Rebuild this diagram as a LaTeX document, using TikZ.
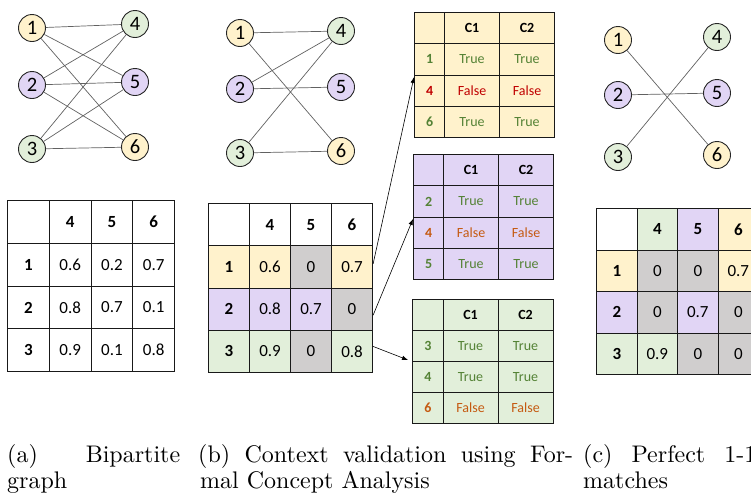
\documentclass[tikz,border=0pt]{standalone}
\usepackage{fontspec}
\newfontfamily\carlito{Carlito}
\usetikzlibrary{arrows.meta}

\definecolor{cyel}{HTML}{FFF2CC}
\definecolor{cpur}{HTML}{E1D5F5}
\definecolor{cgrn}{HTML}{E2EFDA}
\definecolor{cgry}{HTML}{D0CECE}
\definecolor{tgrn}{HTML}{548235}
\definecolor{tred}{HTML}{C00000}
\definecolor{torg}{HTML}{C55A11}

% one table row: name prefix, top y, height, list of x/width/fill/text/suffix
\newcommand\trow[4]{%
  \foreach \cx/\cwid/\cfill/\ctext/\cname in {#4}{%
    \node[cell,minimum width=\cwid pt,minimum height=#3pt,fill=\cfill] (#1\cname) at (\cx,#2) {\ctext};}}
% caption line set at 10pt design size and enlarged
\newcommand\capline[1]{\scalebox{2.4}{\fontsize{10}{12}\selectfont #1}}

\begin{document}
\begin{tikzpicture}[x=1pt,y=-1pt,
  vert/.style={circle,draw=black!85,line width=0.9pt,minimum size=27pt,inner sep=0pt,
    font=\carlito\fontsize{20.5}{20.5}\selectfont},
  link/.style={draw=black!62,line width=0.7pt},
  cell/.style={draw=black!90,line width=1.1pt,anchor=north west,inner sep=0pt,
    font=\carlito\fontsize{17}{17}\selectfont},
  arr/.style={draw=black,line width=0.6pt,-{Latex[length=6pt,width=4.5pt]}},
  captext/.style={anchor=base west,inner sep=0pt},
]
\useasboundingbox (0,0) rectangle (751,493);
\clip (0,0) rectangle (751,493);

% ---------- (a) complete bipartite graph ----------
\node[vert,fill=cyel] (a1) at (32,28) {1};
\node[vert,fill=cpur] (a2) at (32,85) {2};
\node[vert,fill=cgrn] (a3) at (32,149) {3};
\node[vert,fill=cgrn] (a4) at (135,24) {4};
\node[vert,fill=cpur] (a5) at (135,82) {5};
\node[vert,fill=cyel] (a6) at (135,147) {6};
\foreach \u in {1,2,3}{\foreach \v in {4,5,6}{\draw[link] (a\u) -- (a\v);}}

% ---------- (a) weight table ----------
\trow{ta0}{200}{42.75}{7/41.75/white//0, 48.75/41.75/white/\bfseries 4/1, 90.5/41.75/white/\bfseries 5/2, 132.25/41.75/white/\bfseries 6/3}
\trow{ta1}{242.75}{42.75}{7/41.75/white/\bfseries 1/0, 48.75/41.75/white/0.6/1, 90.5/41.75/white/0.2/2, 132.25/41.75/white/0.7/3}
\trow{ta2}{285.5}{42.75}{7/41.75/white/\bfseries 2/0, 48.75/41.75/white/0.8/1, 90.5/41.75/white/0.7/2, 132.25/41.75/white/0.1/3}
\trow{ta3}{328.25}{42.75}{7/41.75/white/\bfseries 3/0, 48.75/41.75/white/0.9/1, 90.5/41.75/white/0.1/2, 132.25/41.75/white/0.8/3}

% ---------- (b) filtered graph ----------
\node[vert,fill=cyel] (b1) at (240,33) {1};
\node[vert,fill=cpur] (b2) at (240,89) {2};
\node[vert,fill=cgrn] (b3) at (240,153) {3};
\node[vert,fill=cgrn] (b4) at (341,31) {4};
\node[vert,fill=cpur] (b5) at (341,87) {5};
\node[vert,fill=cyel] (b6) at (341,151) {6};
\draw[link] (b1) -- (b4);
\draw[link] (b1) -- (b6);
\draw[link] (b2) -- (b4);
\draw[link] (b2) -- (b5);
\draw[link] (b3) -- (b4);
\draw[link] (b3) -- (b6);

% ---------- (b) weight table ----------
\trow{tb0}{203}{42.25}{208/41/white//0, 249/41/white/\bfseries 4/1, 290/41/white/\bfseries 5/2, 331/41/white/\bfseries 6/3}
\trow{tb1}{245.25}{42.25}{208/41/cyel/\bfseries 1/0, 249/41/cyel/0.6/1, 290/41/cgry/0/2, 331/41/cyel/0.7/3}
\trow{tb2}{287.5}{42.25}{208/41/cpur/\bfseries 2/0, 249/41/cpur/0.8/1, 290/41/cpur/0.7/2, 331/41/cgry/0/3}
\trow{tb3}{329.75}{42.25}{208/41/cgrn/\bfseries 3/0, 249/41/cgrn/0.9/1, 290/41/cgry/0/2, 331/41/cgrn/0.8/3}

% ---------- (b) formal concept tables ----------
\tikzset{cell/.append style={font=\carlito\fontsize{14}{14}\selectfont}}
\trow{fa0}{12}{31.25}{414/30/cyel//0, 444/55/cyel/\bfseries C1/1, 499/55/cyel/\bfseries C2/2}
\trow{fa1}{43.25}{31.25}{414/30/cyel/\color{tgrn}\bfseries 1/0, 444/55/cyel/\color{tgrn}True/1, 499/55/cyel/\color{tgrn}True/2}
\trow{fa2}{74.5}{31.25}{414/30/cyel/\color{tred}\bfseries 4/0, 444/55/cyel/\color{tred}False/1, 499/55/cyel/\color{tred}False/2}
\trow{fa3}{105.75}{31.25}{414/30/cyel/\color{tgrn}\bfseries 6/0, 444/55/cyel/\color{tgrn}True/1, 499/55/cyel/\color{tgrn}True/2}

\trow{fb0}{154}{31.25}{413/30/cpur//0, 443/55/cpur/\bfseries C1/1, 498/55/cpur/\bfseries C2/2}
\trow{fb1}{185.25}{31.25}{413/30/cpur/\color{tgrn}\bfseries 2/0, 443/55/cpur/\color{tgrn}True/1, 498/55/cpur/\color{tgrn}True/2}
\trow{fb2}{216.5}{31.25}{413/30/cpur/\color{torg}\bfseries 4/0, 443/55/cpur/\color{torg}False/1, 498/55/cpur/\color{torg}False/2}
\trow{fb3}{247.75}{31.25}{413/30/cpur/\color{tgrn}\bfseries 5/0, 443/55/cpur/\color{tgrn}True/1, 498/55/cpur/\color{tgrn}True/2}

\trow{fc0}{299}{31}{412/30.5/cgrn//0, 442.5/55/cgrn/\bfseries C1/1, 497.5/55/cgrn/\bfseries C2/2}
\trow{fc1}{330}{31}{412/30.5/cgrn/\color{tgrn}\bfseries 3/0, 442.5/55/cgrn/\color{tgrn}True/1, 497.5/55/cgrn/\color{tgrn}True/2}
\trow{fc2}{361}{31}{412/30.5/cgrn/\color{tgrn}\bfseries 4/0, 442.5/55/cgrn/\color{tgrn}True/1, 497.5/55/cgrn/\color{tgrn}True/2}
\trow{fc3}{392}{31}{412/30.5/cgrn/\color{torg}\bfseries 6/0, 442.5/55/cgrn/\color{torg}False/1, 497.5/55/cgrn/\color{torg}False/2}
\tikzset{cell/.append style={font=\carlito\fontsize{17}{17}\selectfont}}

% rows of the weight table feeding the concept tables
\draw[arr] ([yshift=3pt]tb13.east) -- ([yshift=-2.5pt]fa20.north west);
\draw[arr] ([yshift=-6pt]tb23.east) -- ([yshift=-2.5pt]fb20.north west);
\draw[arr] ([yshift=5pt]tb33.east) -- ([xshift=-4pt,yshift=1pt]fc20.north west);

% ---------- (c) perfect matching ----------
\node[vert,fill=cyel] (c1) at (618,40) {1};
\node[vert,fill=cpur] (c2) at (618,95) {2};
\node[vert,fill=cgrn] (c3) at (618,157) {3};
\node[vert,fill=cgrn] (c4) at (717,37) {4};
\node[vert,fill=cpur] (c5) at (717,93) {5};
\node[vert,fill=cyel] (c6) at (717,155) {6};
\draw[link] (c1) -- (c6);
\draw[link] (c2) -- (c5);
\draw[link] (c3) -- (c4);

\trow{tc0}{208}{41.5}{596/40.5/white//0, 636.5/40.5/cgrn/\bfseries 4/1, 677/40.5/cpur/\bfseries 5/2, 717.5/40.5/cyel/\bfseries 6/3}
\trow{tc1}{249.5}{41.5}{596/40.5/cyel/\bfseries 1/0, 636.5/40.5/cgry/0/1, 677/40.5/cgry/0/2, 717.5/40.5/cyel/0.7/3}
\trow{tc2}{291}{41.5}{596/40.5/cpur/\bfseries 2/0, 636.5/40.5/cgry/0/1, 677/40.5/cpur/0.7/2, 717.5/40.5/cgry/0/3}
\trow{tc3}{332.5}{41.5}{596/40.5/cgrn/\bfseries 3/0, 636.5/40.5/cgrn/0.9/1, 677/40.5/cgry/0/2, 717.5/40.5/cgry/0/3}

% ---------- captions ----------
\node[captext] (capa1) at (7,462) {\capline{\makebox[72.1pt][s]{(a) Bipartite}}};
\node[captext] (capa2) at (7,488) {\capline{graph}};
\node[captext] (capb1) at (198,462) {\capline{\makebox[156.25pt][s]{(b) Context validation using For-}}};
\node[captext] (capb2) at (200,488) {\capline{mal Concept Analysis}};
\node[captext] (capc1) at (583,462) {\capline{\makebox[72.1pt][s]{(c) Perfect 1-1}}};
\node[captext] (capc2) at (583,488) {\capline{matches}};
\end{tikzpicture}
\end{document}
